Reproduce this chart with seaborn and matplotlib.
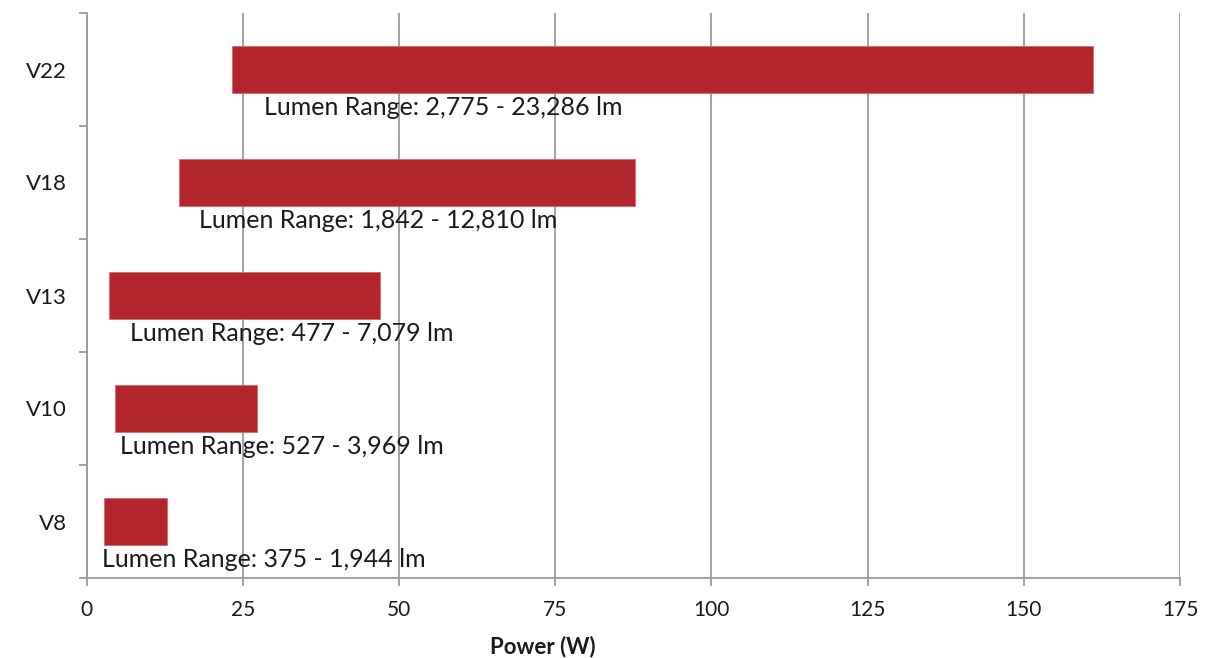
import matplotlib
matplotlib.use("Agg")
import matplotlib.pyplot as plt
import seaborn as sns
import pandas as pd

# Luminaire families and their power ranges (W)
models = ["V22", "V18", "V13", "V10", "V8"]
power_min = [23.3, 14.8, 3.6, 4.6, 2.8]
power_max = [161.1, 87.8, 47.0, 27.3, 12.9]
lumen_min = ["2,775", "1,842", "477", "527", "375"]
lumen_max = ["23,286", "12,810", "7,079", "3,969", "1,944"]
# x position (W) where each lumen caption starts
label_x = [28.4, 18.0, 7.0, 5.4, 2.5]
x_ticks = [0, 25, 50, 75, 100, 125, 150, 175]

sns.set_theme(style="white")
plt.rcParams["font.family"] = ["Lato", "DejaVu Sans"]

BAR = "#B3262E"
GRID = "#9B9B9B"
TEXT = "#1a1a1a"

df = pd.DataFrame({
    "model": models,
    "span": [hi - lo for lo, hi in zip(power_min, power_max)],
})

fig = plt.figure(figsize=(12.32, 6.58), dpi=100)
ax = fig.add_axes([86.5 / 1232, 1 - 578 / 658, (1180 - 86.5) / 1232, (578 - 13) / 658])

sns.barplot(data=df, x="span", y="model", order=models, orient="h",
            color=BAR, saturation=1, width=0.41, ax=ax,
            edgecolor="#D96A70", linewidth=0.6, zorder=3)

# shift each bar so it starts at the minimum power
for patch, lo in zip(ax.patches, power_min):
    patch.set_x(lo)

for i, (lx, a, b) in enumerate(zip(label_x, lumen_min, lumen_max)):
    ax.text(lx, i + 0.335, f"Lumen Range: {a} - {b} lm", ha="left", va="center",
            fontsize=18, color=TEXT, zorder=4)

ax.set_xlim(0, 175)
ax.set_ylim(len(models) - 0.5, -0.5)
ax.set_xticks(x_ticks)
ax.set_xticklabels([str(t) for t in x_ticks], fontsize=15, color=TEXT)
ax.grid(axis="x", color=GRID, linewidth=1.3, zorder=0)
ax.grid(axis="y", visible=False)

# y tick labels at categories, tick marks at category boundaries
ax.set_yticks(range(len(models)))
ax.set_yticklabels(models, fontsize=16, color=TEXT)
ax.tick_params(axis="y", which="major", length=0, pad=14)
ax.set_yticks([i - 0.5 for i in range(len(models) + 1)], minor=True)
ax.tick_params(axis="y", which="minor", length=6, width=1.3, color=GRID, left=True)
ax.tick_params(axis="x", which="major", length=6, width=1.3, color=GRID, bottom=True, pad=10)

for side in ["top", "right"]:
    ax.spines[side].set_visible(False)
for side in ["left", "bottom"]:
    ax.spines[side].set_color(GRID)
    ax.spines[side].set_linewidth(1.3)

ax.set_ylabel("")
ax.set_xlabel("Power (W)", fontsize=16, fontweight="bold", color=TEXT)
ax.xaxis.set_label_coords((543 - 86.5) / (1180 - 86.5), -0.102)

fig.savefig("out.png", dpi=100)
